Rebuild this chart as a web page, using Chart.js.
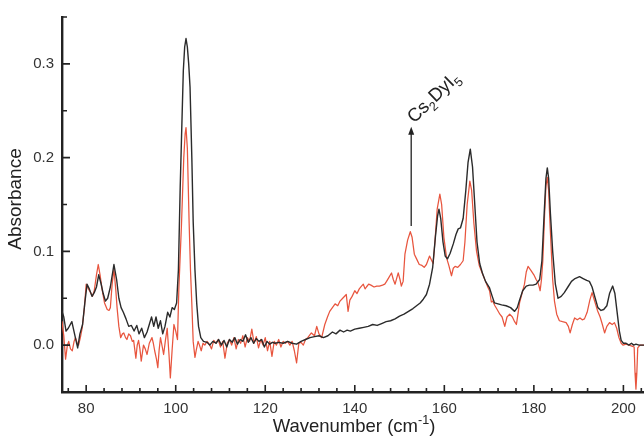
<!DOCTYPE html>
<html>
<head>
<meta charset="utf-8">
<script src="https://cdn.jsdelivr.net/npm/chart.js@4.4.1/dist/chart.umd.min.js"></script>
<style>
  html, body { margin: 0; padding: 0; background: #fff; }
  canvas { display: block; }
</style>
</head>
<body>
<canvas id="ch-ir" width="644" height="436"></canvas>
<script>
// Far-IR absorbance, two samples: [wavenumber cm-1, absorbance]
const blackTrace = [
  [74.6,0.036],[75.0,0.030],[75.5,0.015],[76.0,0.018],[76.8,0.025],[77.4,0.012],[78.1,-0.003],[78.6,0.012],
  [79.2,0.022],[79.7,0.045],[80.2,0.065],[80.7,0.060],[81.3,0.052],[81.8,0.056],[82.3,0.062],[82.8,0.075],
  [83.3,0.066],[83.8,0.055],[84.3,0.047],[84.8,0.050],[85.4,0.062],[86.2,0.086],[86.8,0.070],[87.3,0.050],
  [87.8,0.040],[88.3,0.035],[88.9,0.028],[89.5,0.020],[90.1,0.021],[90.7,0.015],[91.3,0.021],[91.8,0.012],
  [92.4,0.018],[93.0,0.008],[93.6,0.014],[94.1,0.022],[94.6,0.030],[95.1,0.020],[95.6,0.030],[96.1,0.018],
  [96.6,0.026],[97.1,0.012],[97.6,0.020],[98.2,0.035],[98.7,0.030],[99.2,0.040],[99.7,0.038],[100.2,0.045],
  [100.6,0.080],[101.0,0.168],[101.4,0.240],[101.7,0.293],[102.0,0.318],[102.3,0.327],[102.6,0.318],[102.9,0.300],
  [103.2,0.275],[103.6,0.200],[103.9,0.132],[104.3,0.080],[104.7,0.044],[105.1,0.020],[105.6,0.008],[106.2,0.004],
  [107.0,0.003],[107.6,0.000],[108.3,0.004],[109.0,0.002],[109.6,0.006],[110.2,0.000],[110.8,0.005],[111.4,-0.002],
  [112.0,0.006],[112.6,0.003],[113.2,0.008],[113.8,0.001],[114.4,0.006],[115.0,0.004],[115.6,0.011],[116.2,0.003],
  [116.8,0.008],[117.4,0.002],[118.0,0.007],[118.6,0.004],[119.2,0.006],[119.8,-0.002],[120.4,0.004],[121.0,0.001],
  [121.6,0.003],[122.2,0.002],[123.0,0.003],[124.0,0.002],[125.0,0.004],[126.0,0.002],[127.0,0.001],[128.0,0.004],
  [129.0,0.006],[130.0,0.008],[131.0,0.009],[132.0,0.010],[133.0,0.008],[134.0,0.010],[135.0,0.014],[135.8,0.012],
  [136.7,0.016],[137.5,0.014],[138.3,0.016],[139.0,0.015],[140.0,0.017],[141.0,0.018],[142.0,0.019],[143.0,0.020],
  [144.0,0.022],[145.0,0.021],[146.0,0.023],[147.0,0.025],[148.0,0.026],[149.0,0.028],[150.0,0.031],[151.0,0.033],
  [152.0,0.036],[153.0,0.039],[153.8,0.042],[154.6,0.045],[155.3,0.049],[156.0,0.054],[156.7,0.065],[157.4,0.083],
  [158.0,0.115],[158.5,0.138],[158.8,0.145],[159.2,0.135],[159.7,0.110],[160.2,0.095],[160.7,0.092],[161.3,0.098],
  [162.0,0.108],[162.6,0.118],[163.1,0.124],[163.6,0.125],[164.2,0.135],[164.8,0.165],[165.3,0.195],[165.8,0.209],
  [166.3,0.190],[166.8,0.150],[167.3,0.110],[167.9,0.087],[168.5,0.077],[169.2,0.068],[170.1,0.061],[170.7,0.052],
  [171.2,0.045],[172.0,0.044],[172.8,0.043],[173.8,0.042],[174.8,0.040],[175.7,0.036],[176.3,0.040],[176.8,0.048],
  [177.5,0.058],[178.3,0.063],[179.0,0.064],[179.8,0.064],[180.5,0.065],[181.3,0.070],[181.8,0.090],[182.3,0.140],
  [182.7,0.178],[183.0,0.189],[183.3,0.178],[183.7,0.140],[184.2,0.100],[184.8,0.065],[185.4,0.050],[186.1,0.052],
  [186.8,0.056],[187.6,0.062],[188.4,0.068],[189.2,0.071],[190.2,0.073],[191.0,0.071],[191.8,0.069],[192.4,0.068],
  [193.0,0.062],[193.7,0.050],[194.3,0.040],[195.0,0.037],[195.6,0.038],[196.3,0.042],[196.9,0.055],[197.6,0.063],
  [198.1,0.055],[198.6,0.035],[199.1,0.015],[199.5,0.005],[200.0,0.002],[200.6,0.002],[201.2,0.000],[201.8,0.002],
  [202.3,0.000],[202.8,0.001],[203.5,0.000],[204.5,0.000]
];

const redTrace = [
  [74.6,0.025],[75.0,0.010],[75.4,-0.015],[75.8,0.000],[76.1,0.004],[76.5,-0.004],[76.9,-0.006],[77.3,0.004],
  [77.6,0.008],[78.0,0.002],[78.3,0.000],[78.7,0.008],[79.1,0.018],[79.6,0.040],[80.0,0.065],[80.5,0.060],
  [81.0,0.056],[81.4,0.052],[81.8,0.058],[82.3,0.075],[82.7,0.086],[83.1,0.075],[83.6,0.058],[84.1,0.045],
  [84.7,0.038],[85.1,0.037],[85.4,0.040],[85.8,0.065],[86.2,0.081],[86.6,0.060],[86.9,0.040],[87.3,0.020],
  [87.7,0.008],[88.1,0.012],[88.4,0.013],[88.8,0.008],[89.1,0.006],[89.5,0.012],[89.9,0.010],[90.3,0.004],
  [90.6,0.005],[91.1,-0.014],[91.4,0.000],[91.7,0.005],[92.0,-0.004],[92.3,-0.017],[92.8,0.000],[93.2,-0.004],
  [93.6,-0.010],[94.1,0.002],[94.7,0.008],[95.0,0.002],[95.3,-0.006],[95.7,-0.015],[96.0,-0.024],[96.3,-0.005],
  [96.6,0.008],[97.0,-0.002],[97.3,-0.010],[97.7,0.005],[98.1,0.018],[98.5,-0.010],[98.8,-0.035],[99.2,-0.005],
  [99.6,0.022],[100.0,0.015],[100.4,0.006],[100.7,0.060],[101.0,0.095],[101.3,0.130],[101.8,0.200],[102.1,0.225],
  [102.3,0.232],[102.6,0.210],[103.0,0.130],[103.3,0.080],[103.6,0.044],[103.9,0.004],[104.3,-0.013],[104.6,-0.005],
  [105.0,0.004],[105.3,0.000],[105.7,-0.006],[106.1,0.002],[106.5,0.000],[107.0,0.004],[107.5,0.001],[108.0,-0.004],
  [108.5,0.005],[109.0,0.002],[109.5,0.006],[110.0,-0.002],[110.5,0.004],[111.0,-0.014],[111.5,0.002],[112.0,0.006],
  [112.5,0.000],[113.0,0.008],[113.5,-0.004],[114.0,0.006],[114.5,0.002],[115.0,0.010],[115.5,-0.002],[116.0,0.008],
  [116.5,0.004],[117.0,0.017],[117.5,0.002],[118.0,0.009],[118.5,-0.003],[119.0,0.006],[119.5,0.000],[120.0,0.008],
  [120.5,-0.006],[121.0,0.004],[121.5,-0.012],[122.0,0.004],[122.5,0.000],[123.0,0.006],[123.5,-0.002],[124.0,0.004],
  [124.5,0.002],[125.0,0.004],[125.5,0.000],[126.0,0.004],[126.5,-0.006],[127.0,-0.019],[127.5,0.002],[128.0,0.003],
  [128.5,0.000],[129.0,0.006],[129.5,0.008],[130.3,0.013],[131.0,0.010],[131.5,0.020],[132.0,0.012],[132.6,0.008],
  [133.3,0.022],[133.9,0.030],[134.4,0.036],[135.0,0.040],[135.6,0.044],[136.2,0.042],[136.7,0.047],[137.3,0.050],
  [138.1,0.054],[138.5,0.036],[138.9,0.048],[139.4,0.052],[140.0,0.058],[140.5,0.055],[141.0,0.060],[141.5,0.063],
  [141.9,0.065],[142.3,0.060],[142.6,0.062],[143.1,0.065],[143.6,0.064],[144.3,0.062],[144.9,0.063],[145.5,0.063],
  [146.2,0.064],[146.7,0.065],[147.1,0.068],[147.6,0.072],[148.2,0.077],[148.6,0.070],[149.0,0.065],[149.4,0.072],
  [149.7,0.077],[150.1,0.070],[150.4,0.063],[150.8,0.068],[151.2,0.097],[151.8,0.112],[152.4,0.121],[152.8,0.115],
  [153.3,0.097],[153.8,0.092],[154.4,0.086],[155.0,0.085],[155.5,0.083],[156.0,0.086],[156.7,0.095],[157.2,0.090],
  [157.5,0.087],[157.9,0.110],[158.4,0.145],[159.0,0.161],[159.4,0.150],[159.9,0.115],[160.5,0.093],[161.0,0.085],
  [161.6,0.074],[162.0,0.082],[162.4,0.084],[163.0,0.083],[163.6,0.086],[164.2,0.090],[164.6,0.110],[165.1,0.150],
  [165.7,0.175],[166.1,0.165],[166.6,0.130],[167.2,0.100],[167.8,0.085],[168.6,0.075],[169.2,0.068],[169.7,0.062],
  [170.1,0.058],[170.5,0.046],[170.8,0.047],[171.3,0.042],[171.8,0.038],[172.4,0.033],[172.9,0.030],[173.5,0.020],
  [174.0,0.030],[174.6,0.033],[175.2,0.030],[175.7,0.025],[176.1,0.022],[176.5,0.035],[176.8,0.045],[177.4,0.056],
  [177.9,0.065],[178.3,0.078],[178.7,0.084],[179.3,0.080],[180.0,0.075],[180.5,0.070],[180.9,0.067],[181.2,0.062],
  [181.4,0.058],[181.7,0.070],[182.0,0.090],[182.4,0.140],[182.7,0.170],[183.0,0.179],[183.3,0.165],[183.6,0.130],
  [183.9,0.100],[184.2,0.070],[184.6,0.047],[185.1,0.033],[185.7,0.026],[186.4,0.025],[187.2,0.024],[187.7,0.020],
  [188.1,0.013],[188.6,0.022],[189.1,0.029],[189.7,0.027],[190.3,0.029],[190.8,0.027],[191.3,0.028],[191.9,0.035],
  [192.5,0.048],[193.0,0.056],[193.5,0.048],[194.2,0.037],[194.8,0.030],[195.3,0.022],[195.8,0.013],[196.3,0.020],
  [196.9,0.024],[197.5,0.022],[198.0,0.024],[198.5,0.018],[199.0,0.008],[199.5,0.002],[199.9,0.000],[200.6,0.001],
  [201.3,0.000],[201.9,-0.001],[202.4,-0.002],[202.6,-0.030],[202.8,-0.047],[203.0,-0.030],[203.2,-0.003],[203.7,0.000],
  [204.5,0.000]
];

const xTicks = [80, 100, 120, 140, 160, 180, 200];
const xMinorTicks = [76, 84, 88, 92, 96, 104, 108, 112, 116, 124, 128, 132, 136, 144, 148, 152, 156, 164, 168, 172, 176, 184, 188, 192, 196, 204];
const yTicks = [0.0, 0.1, 0.2, 0.3];
const yMinorTicks = [0.05, 0.15, 0.25, 0.35];

// band marked with the arrow
const bandPos = 152.6;
const bandFrom = 0.127;
const bandTo = 0.233;

const INK = '#222';
const FONT = '"Liberation Sans", Arial, Helvetica, sans-serif';

// writes a run of text pieces; sub: 1 = subscript, -1 = superscript
function richText(ctx, parts, x, y, size) {
  let cx = x;
  parts.forEach(p => {
    const s = p.sub ? size * 0.68 : size;
    ctx.font = `${s}px ${FONT}`;
    const dy = p.sub === 1 ? size * 0.28 : p.sub === -1 ? -size * 0.42 : 0;
    ctx.fillText(p.t, cx, y + dy);
    cx += ctx.measureText(p.t).width;
  });
  return cx - x;
}

function richWidth(ctx, parts, size) {
  let w = 0;
  parts.forEach(p => {
    ctx.font = `${p.sub ? size * 0.68 : size}px ${FONT}`;
    w += ctx.measureText(p.t).width;
  });
  return w;
}

const axisDecor = {
  id: 'axisDecor',
  afterDraw(chart) {
    const { ctx, chartArea: a, scales: { x, y } } = chart;
    ctx.save();
    ctx.strokeStyle = INK;
    ctx.lineWidth = 1.6;
    ctx.beginPath();
    xTicks.forEach(v => { const p = x.getPixelForValue(v); ctx.moveTo(p, a.bottom); ctx.lineTo(p, a.bottom - 7); });
    xMinorTicks.forEach(v => { const p = x.getPixelForValue(v); ctx.moveTo(p, a.bottom); ctx.lineTo(p, a.bottom - 4); });
    yTicks.forEach(v => { const p = y.getPixelForValue(v); ctx.moveTo(a.left, p); ctx.lineTo(a.left + 8, p); });
    yMinorTicks.forEach(v => { const p = y.getPixelForValue(v); ctx.moveTo(a.left, p); ctx.lineTo(a.left + 5, p); });
    ctx.stroke();

    // axis titles
    ctx.fillStyle = INK;
    ctx.textBaseline = 'alphabetic';
    ctx.textAlign = 'left';
    const xt = [{ t: 'Wavenumber (cm' }, { t: '-1', sub: -1 }, { t: ')' }];
    const w = richWidth(ctx, xt, 18.5);
    richText(ctx, xt, (a.left + a.right) / 2 - w / 2 + 1, 432, 18.5);

    ctx.save();
    ctx.translate(21, 199);
    ctx.rotate(-Math.PI / 2);
    ctx.font = `19px ${FONT}`;
    ctx.textAlign = 'center';
    ctx.fillText('Absorbance', 0, 0);
    ctx.restore();

    // arrow to the Cs2DyI5 band
    const ax = x.getPixelForValue(bandPos);
    const y0 = y.getPixelForValue(bandFrom);
    const y1 = y.getPixelForValue(bandTo);
    ctx.lineWidth = 1.3;
    ctx.beginPath();
    ctx.moveTo(ax, y0);
    ctx.lineTo(ax, y1 + 6);
    ctx.stroke();
    ctx.beginPath();
    ctx.moveTo(ax, y1);
    ctx.lineTo(ax - 3, y1 + 8);
    ctx.lineTo(ax + 3, y1 + 8);
    ctx.closePath();
    ctx.fill();

    ctx.save();
    ctx.translate(ax + 3, y1 - 3);
    ctx.rotate(-44 * Math.PI / 180);
    ctx.textAlign = 'left';
    richText(ctx, [{ t: 'Cs' }, { t: '2', sub: 1 }, { t: 'DyI' }, { t: '5', sub: 1 }], 0, 0, 18.5);
    ctx.restore();

    ctx.restore();
  }
};

new Chart(document.getElementById('ch-ir'), {
  type: 'line',
  data: {
    datasets: [
      {
        label: 'black',
        data: blackTrace.map(([x, y]) => ({ x, y })),
        borderColor: '#2b2b2b',
        borderWidth: 1.4,
        borderJoinStyle: 'round',
        borderCapStyle: 'round',
        pointRadius: 0,
        tension: 0,
      },
      {
        label: 'red',
        data: redTrace.map(([x, y]) => ({ x, y })),
        borderColor: '#e8553e',
        borderWidth: 1.25,
        borderJoinStyle: 'round',
        borderCapStyle: 'round',
        pointRadius: 0,
        tension: 0,
      },
    ],
  },
  options: {
    responsive: false,
    animation: false,
    layout: { padding: { top: 16, left: 0, right: 0, bottom: 0 } },
    plugins: { legend: { display: false }, tooltip: { enabled: false } },
    scales: {
      x: {
        type: 'linear',
        min: 74.6,
        max: 204.6,
        afterFit: s => { s.height = 44; },
        afterBuildTicks: s => { s.ticks = xTicks.map(v => ({ value: v })); },
        grid: { display: false, drawTicks: false },
        border: { display: true, color: INK, width: 2.4 },
        ticks: { color: '#333', padding: 8, maxRotation: 0, autoSkip: false, font: { family: FONT, size: 15 } },
      },
      y: {
        min: -0.05,
        max: 0.35,
        afterFit: s => { s.width = 62; },
        afterBuildTicks: s => { s.ticks = yTicks.map(v => ({ value: v })); },
        grid: { display: false, drawTicks: false },
        border: { display: true, color: INK, width: 2.4 },
        ticks: { color: '#333', padding: 8, callback: v => v.toFixed(1), font: { family: FONT, size: 15 } },
      },
    },
  },
  plugins: [axisDecor],
});
</script>
</body>
</html>
